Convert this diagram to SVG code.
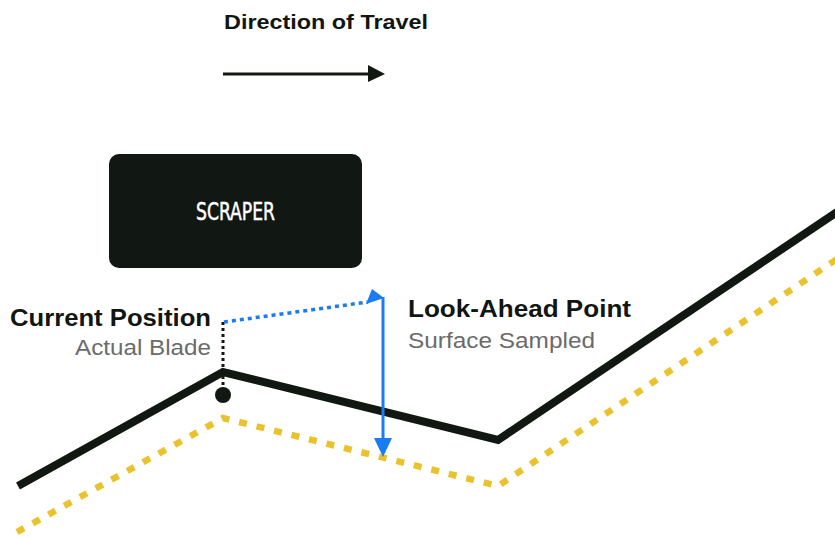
<svg xmlns="http://www.w3.org/2000/svg" width="835" height="538" viewBox="0 0 835 538">
<style>
.bold{font-family:"Liberation Sans",Arial,sans-serif;font-weight:bold;fill:#111611}
.sub{font-family:"Liberation Sans",Arial,sans-serif;fill:#6b6b6b}
.label{font-family:"DejaVu Sans Condensed","Liberation Sans Narrow",sans-serif;fill:#ffffff;font-stretch:condensed;stroke:#ffffff;stroke-width:0.5}
</style>
<rect width="835" height="538" fill="#ffffff"/>
<g id="terrain">
<polyline points="17,532 223,418 498,486 840,257" fill="none" stroke="#e9c22e" stroke-width="6.5" stroke-dasharray="8 10"/>
<polyline points="18,486 223,372 498,440 840,210" fill="none" stroke="#111811" stroke-width="8" stroke-linejoin="miter"/>
</g>
<g id="connectors">
<line x1="223" y1="322" x2="223" y2="392" stroke="#111811" stroke-width="3" stroke-dasharray="3 3"/>
<line x1="224" y1="322" x2="368" y2="302" stroke="#1a7cf5" stroke-width="3.5" stroke-dasharray="4 4"/>
<polygon points="372,289 366,304 384,298" fill="#1a7cf5"/>
<line x1="383" y1="297" x2="383" y2="440" stroke="#1a7cf5" stroke-width="3"/>
<polygon points="374,438 392,438 383,457" fill="#1a7cf5"/>
<line x1="223" y1="74" x2="370" y2="74" stroke="#111811" stroke-width="3"/>
<polygon points="368,65 385,74 368,82" fill="#111811"/>
</g>
<g id="direction">
<text class="bold" x="224" y="29" font-size="20" textLength="204" lengthAdjust="spacingAndGlyphs">Direction of Travel</text>
</g>
<g id="scraper">
<rect x="109" y="154" width="253" height="114" rx="10" fill="#111712"/>
<text class="label" x="235.5" y="220" font-size="25" text-anchor="middle" textLength="79" lengthAdjust="spacingAndGlyphs">SCRAPER</text>
</g>
<g id="current">
<circle cx="223" cy="395" r="8" fill="#111811"/>
<text class="bold" x="211" y="326" font-size="23" text-anchor="end" textLength="201" lengthAdjust="spacingAndGlyphs">Current Position</text>
<text class="sub" x="211" y="355" font-size="22" text-anchor="end" textLength="136" lengthAdjust="spacingAndGlyphs">Actual Blade</text>
</g>
<g id="lookahead">
<text class="bold" x="408" y="317" font-size="23" textLength="223" lengthAdjust="spacingAndGlyphs">Look-Ahead Point</text>
<text class="sub" x="408" y="348" font-size="22" textLength="187" lengthAdjust="spacingAndGlyphs">Surface Sampled</text>
</g>
</svg>
